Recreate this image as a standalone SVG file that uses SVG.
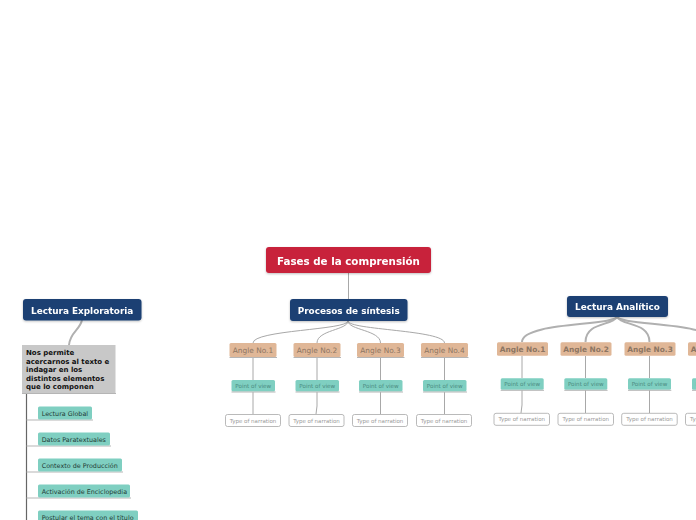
<svg xmlns="http://www.w3.org/2000/svg" width="696" height="520" viewBox="0 0 696 520">
<style>
text{font-family:"DejaVu Sans","Verdana",sans-serif}
.main{fill:#c8203a}
.navy{fill:#1b3f73}
.hd{fill:#fff;font-weight:bold;text-anchor:middle}
.ang{fill:#e0b797}
.angt{fill:#8c7562;font-size:7.4px;text-anchor:middle}
.pov{fill:#7fcfc1}
.povt{fill:#4a8a80;font-size:5.6px;text-anchor:middle}
.ton{fill:#fff;stroke:#a8a8a8;stroke-width:0.8}
.tont{fill:#9a9a9a;font-size:5.5px;text-anchor:middle}
.ul{stroke:#b5b5b5;stroke-width:1}
.ch{fill:#7fcfc1}
.cht{fill:#1f3b36;font-size:6.4px}
.c{fill:none;stroke:#a8a8a8;stroke-width:1}
.c2{fill:none;stroke:#b0b0b0;stroke-width:2}
</style>
<defs>
<filter id="sh" x="-10%" y="-10%" width="120%" height="140%"><feDropShadow dx="0" dy="1" stdDeviation="0.8" flood-color="#000" flood-opacity="0.25"/></filter>
</defs>
<rect width="696" height="520" fill="#fff"/>
<g id="connectors">
<path class="c" d="M348.5 273 V299"/>
<path class="c" d="M348 321 C348 330 253 330 253 343"/>
<path class="c" d="M348 321 C348 330 317 330 317 343"/>
<path class="c" d="M348 321 C348 330 380.5 330 380.5 343"/>
<path class="c" d="M348 321 C348 330 444.5 330 444.5 343"/>
<path class="c" d="M253 357 V380 M253 392 V414"/>
<path class="c" d="M317 357 V380 M317 392 V406 L316 414"/>
<path class="c" d="M380.5 357 V380 M380.5 392 V414"/>
<path class="c" d="M444.5 357 V380 M444.5 392 V414"/>
<path class="c2" d="M617 317 C612 326 522 322 522 342"/>
<path class="c2" d="M617 317 C612 326 585.5 322 585.5 342"/>
<path class="c2" d="M617 317 C622 326 649.5 322 649.5 342"/>
<path class="c2" d="M617 317 C622 326 713.5 322 713.5 342"/>
<path class="c" d="M522 356 V378 M522 390 V405 L521 413"/>
<path class="c" d="M585.5 356 V378 M585.5 390 V413"/>
<path class="c" d="M649.5 356 V378 M649.5 390 V413"/>
<path class="c2" d="M82 320 C80 330 70 332 69 345"/>
<path d="M26.5 393 V520" stroke="#666" stroke-width="1.2" fill="none"/>
<path class="ul" d="M26.5 420 H93 M26.5 446 H111 M26.5 472 H123 M26.5 498 H131"/>
</g>
<g id="root" filter="url(#sh)">
<rect class="main" x="266" y="247" width="165" height="26" rx="3"/>
<text class="hd" x="348.5" y="264.5" font-size="10.3">Fases de la comprensión</text>
</g>
<g id="procesos" filter="url(#sh)">
<rect class="navy" x="290" y="299" width="117.5" height="22" rx="3"/>
<text class="hd" x="348.7" y="313.5" font-size="8.9">Procesos de síntesis</text>
</g>
<g id="exploratoria" filter="url(#sh)">
<rect class="navy" x="23" y="299" width="118.5" height="21.5" rx="3"/>
<text class="hd" x="82.2" y="313.5" font-size="8.9">Lectura Exploratoria</text>
</g>
<g id="analitico" filter="url(#sh)">
<rect class="navy" x="567" y="296" width="101" height="21" rx="3"/>
<text class="hd" x="617.5" y="310" font-size="8.9">Lectura Analítico</text>
</g>
<g id="descripcion">
<rect x="22" y="345" width="93.5" height="48" fill="#c8c8c8"/>
<line class="ul" x1="22" y1="393.5" x2="116" y2="393.5"/>
<text font-size="7" font-weight="bold" fill="#111" x="26">
<tspan x="26" y="355">Nos permite</tspan>
<tspan x="26" y="363.6">acercarnos al texto e</tspan>
<tspan x="26" y="372.2">indagar en los</tspan>
<tspan x="26" y="380.8">distintos elementos</tspan>
<tspan x="26" y="389.4">que lo componen</tspan>
</text>
</g>
<g id="lectura-global"><rect class="ch" x="38" y="406.5" width="54" height="13" rx="1.5"/><text class="cht" x="41.7" y="415.5">Lectura Global</text></g>
<g id="datos-paratextuales"><rect class="ch" x="38" y="432.5" width="72" height="13" rx="1.5"/><text class="cht" x="41.7" y="441.5">Datos Paratextuales</text></g>
<g id="contexto-produccion"><rect class="ch" x="38" y="458.5" width="84" height="13" rx="1.5"/><text class="cht" x="41.7" y="467.5">Contexto de Producción</text></g>
<g id="activacion-enciclopedia"><rect class="ch" x="38" y="484.5" width="92" height="13" rx="1.5"/><text class="cht" x="41.7" y="493.5">Activación de Enciclopedia</text></g>
<g id="postular-tema"><rect class="ch" x="38" y="510.5" width="100" height="13" rx="1.5"/><text class="cht" x="41.7" y="519.5">Postular el tema con el título</text></g>

<g id="p-angle1"><rect class="ang" x="229.5" y="343" width="47" height="14" rx="1.5"/><line class="ul" x1="229.5" y1="357.5" x2="277" y2="357.5"/><text class="angt" x="253" y="352.8">Angle No.1</text></g>
<g id="p-angle2"><rect class="ang" x="293.5" y="343" width="47" height="14" rx="1.5"/><line class="ul" x1="293.5" y1="357.5" x2="341" y2="357.5"/><text class="angt" x="317" y="352.8">Angle No.2</text></g>
<g id="p-angle3"><rect class="ang" x="357" y="343" width="47" height="14" rx="1.5"/><line class="ul" x1="357" y1="357.5" x2="404.5" y2="357.5"/><text class="angt" x="380.5" y="352.8">Angle No.3</text></g>
<g id="p-angle4"><rect class="ang" x="421" y="343" width="47" height="14" rx="1.5"/><line class="ul" x1="421" y1="357.5" x2="468.5" y2="357.5"/><text class="angt" x="444.5" y="352.8">Angle No.4</text></g>

<g id="p-pov1"><rect class="pov" x="231.5" y="380" width="43.5" height="11.5" rx="1.5"/><line class="ul" x1="231.5" y1="392" x2="275.5" y2="392"/><text class="povt" x="253.2" y="387.8">Point of view</text></g>
<g id="p-pov2"><rect class="pov" x="295.5" y="380" width="43.5" height="11.5" rx="1.5"/><line class="ul" x1="295.5" y1="392" x2="339.5" y2="392"/><text class="povt" x="317.2" y="387.8">Point of view</text></g>
<g id="p-pov3"><rect class="pov" x="359" y="380" width="43.5" height="11.5" rx="1.5"/><line class="ul" x1="359" y1="392" x2="403" y2="392"/><text class="povt" x="380.7" y="387.8">Point of view</text></g>
<g id="p-pov4"><rect class="pov" x="423" y="380" width="43.5" height="11.5" rx="1.5"/><line class="ul" x1="423" y1="392" x2="467" y2="392"/><text class="povt" x="444.7" y="387.8">Point of view</text></g>

<g id="p-ton1"><rect class="ton" x="225.5" y="414.5" width="55" height="12" rx="2"/><text class="tont" x="253" y="422.6">Type of narration</text></g>
<g id="p-ton2"><rect class="ton" x="289" y="414.5" width="55" height="12" rx="2"/><text class="tont" x="316.5" y="422.6">Type of narration</text></g>
<g id="p-ton3"><rect class="ton" x="352.5" y="414.5" width="55" height="12" rx="2"/><text class="tont" x="380" y="422.6">Type of narration</text></g>
<g id="p-ton4"><rect class="ton" x="416.5" y="414.5" width="55" height="12" rx="2"/><text class="tont" x="444" y="422.6">Type of narration</text></g>

<g id="a-angle1"><rect class="ang" x="497" y="342.3" width="51" height="13.5" rx="1.5"/><text class="angt" font-weight="bold" x="522.5" y="352">Angle No.1</text></g>
<g id="a-angle2"><rect class="ang" x="560.5" y="342.3" width="51" height="13.5" rx="1.5"/><text class="angt" font-weight="bold" x="586" y="352">Angle No.2</text></g>
<g id="a-angle3"><rect class="ang" x="624.5" y="342.3" width="51" height="13.5" rx="1.5"/><text class="angt" font-weight="bold" x="650" y="352">Angle No.3</text></g>
<g id="a-angle4"><rect class="ang" x="688" y="342.3" width="51" height="13.5" rx="1.5"/><text class="angt" font-weight="bold" x="713.5" y="352">Angle No.4</text></g>

<g id="a-pov1"><rect class="pov" x="500.7" y="378.3" width="43" height="11.5" rx="1.5"/><line class="ul" x1="500.7" y1="390.3" x2="544" y2="390.3"/><text class="povt" x="522.2" y="386.1">Point of view</text></g>
<g id="a-pov2"><rect class="pov" x="564.3" y="378.3" width="43" height="11.5" rx="1.5"/><line class="ul" x1="564.3" y1="390.3" x2="607.6" y2="390.3"/><text class="povt" x="585.8" y="386.1">Point of view</text></g>
<g id="a-pov3"><rect class="pov" x="628" y="378.3" width="43" height="11.5" rx="1.5"/><line class="ul" x1="628" y1="390.3" x2="671.3" y2="390.3"/><text class="povt" x="649.5" y="386.1">Point of view</text></g>
<g id="a-pov4"><rect class="pov" x="692" y="378.3" width="43" height="11.5" rx="1.5"/><line class="ul" x1="692" y1="390.3" x2="735.3" y2="390.3"/><text class="povt" x="713.5" y="386.1">Point of view</text></g>

<g id="a-ton1"><rect class="ton" x="494" y="413.3" width="55.5" height="12" rx="2"/><text class="tont" x="521.7" y="421.4">Type of narration</text></g>
<g id="a-ton2"><rect class="ton" x="558" y="413.3" width="55.5" height="12" rx="2"/><text class="tont" x="585.7" y="421.4">Type of narration</text></g>
<g id="a-ton3"><rect class="ton" x="621.7" y="413.3" width="55.5" height="12" rx="2"/><text class="tont" x="649.5" y="421.4">Type of narration</text></g>
<g id="a-ton4"><rect class="ton" x="685.5" y="413.3" width="55.5" height="12" rx="2"/><text class="tont" x="713.2" y="421.4">Type of narration</text></g>
</svg>
